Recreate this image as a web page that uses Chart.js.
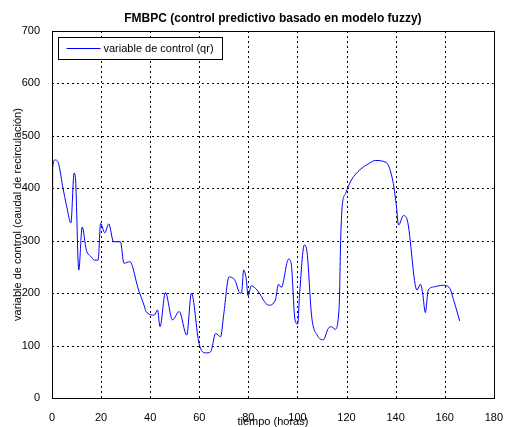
<!DOCTYPE html>
<html>
<head>
	<meta charset="UTF-8" />
	<script src="https://cdn.jsdelivr.net/npm/chart.js@4.4.0/dist/chart.umd.min.js"></script>
	<style>
		body { margin: 0; background: #fff; }
	</style>
</head>
<body>
	<canvas id="myChart" width="508" height="427"></canvas>
	<script>
// tiempo (horas) and control variable (qr)
const tiempo = [0, 0.1, 0.3, 1.2, 2.6, 4.3, 6, 7.7, 9, 9.6, 10.9, 12.3, 14, 15.8, 17.4, 18.8, 19.8, 21.5, 23.1, 25.1, 27.9, 29.3, 31.6, 32.5, 34.9, 37.7, 38.3, 41.7, 43, 44, 46.2, 49.1, 51.8, 54.9, 56.8, 59.9, 62.6, 64.6, 66.7, 68.7, 70, 72.1, 74.8, 76.1, 77.2, 78.1, 79.1, 79.9, 81.2, 83.5, 88.3, 91, 92.3, 93.4, 96.4, 97.4, 99, 100.1, 100.8, 102.8, 103.8, 105.8, 108, 110.5, 112.6, 113.9, 115.3, 117, 117.6, 118.2, 119.6, 122, 125.4, 129.4, 131.7, 136.2, 138.9, 140.2, 141.2, 143.2, 144.7, 148.7, 150.1, 151, 152.1, 153.3, 155.7, 159.1, 161.8, 163.8, 166.1];
const qr = [680, 220, 440, 454, 448, 405, 365, 334, 429, 416, 244, 326, 282, 270, 263, 263, 333, 315, 332, 298, 298, 257, 260, 255, 212, 174, 165, 158, 168, 136, 201, 149, 165, 120, 200, 104, 86, 88, 123, 117, 161, 231, 222, 203, 200, 244, 228, 195, 214, 206, 177, 187, 217, 211, 265, 258, 149, 141, 193, 292, 282, 155, 120, 111, 133, 136, 131, 175, 300, 365, 390, 416, 435, 448, 453, 449, 413, 371, 330, 348, 340, 206, 217, 200, 163, 206, 212, 215, 211, 184, 147];
const xTicks = [0, 20, 40, 60, 80, 100, 120, 140, 160, 180];
const yTicks = [0, 100, 200, 300, 400, 500, 600, 700];
const serieLabel = "variable de control (qr)";

const FONT = "'Liberation Sans', Arial, sans-serif";

// dotted MATLAB grid, placed through the scales
const gridPlugin = {
	id: "dotgrid",
	beforeDatasetsDraw(chart) {
		const { ctx, chartArea: a, scales } = chart;
		ctx.save();
		ctx.beginPath();
		ctx.rect(a.left, a.top, a.right - a.left, a.bottom - a.top);
		ctx.clip();
		ctx.strokeStyle = "#000";
		ctx.lineWidth = 1;
		ctx.setLineDash([2, 3]);
		ctx.beginPath();
		xTicks.forEach(v => {
			const px = Math.round(scales.x.getPixelForValue(v)) + 0.5;
			ctx.moveTo(px, a.top);
			ctx.lineTo(px, a.bottom);
		});
		yTicks.forEach(v => {
			const py = Math.round(scales.y.getPixelForValue(v)) + 0.5;
			ctx.moveTo(a.left, py);
			ctx.lineTo(a.right, py);
		});
		ctx.stroke();
		ctx.restore();
	}
};

// MATLAB-like box and legend inside the axes
const boxPlugin = {
	id: "box",
	afterDraw(chart) {
		const { ctx, chartArea: a } = chart;
		ctx.save();
		ctx.strokeStyle = "#000";
		ctx.lineWidth = 1;
		ctx.setLineDash([]);
		ctx.strokeRect(Math.round(a.left) + 0.5, Math.round(a.top) + 0.5, Math.round(a.right - a.left), Math.round(a.bottom - a.top));
		// legend
		const lx = Math.round(a.left) + 6.5, ly = Math.round(a.top) + 6.5;
		ctx.fillStyle = "#fff";
		ctx.fillRect(lx, ly, 164, 22);
		ctx.strokeRect(lx, ly, 164, 22);
		ctx.strokeStyle = "#0000ff";
		ctx.beginPath();
		ctx.moveTo(lx + 8, ly + 11);
		ctx.lineTo(lx + 42, ly + 11);
		ctx.stroke();
		ctx.fillStyle = "#000";
		ctx.font = "11px " + FONT;
		ctx.textBaseline = "middle";
		ctx.fillText(serieLabel, lx + 45, ly + 11.5);
		ctx.restore();
	}
};

const chart = new Chart(document.getElementById("myChart").getContext("2d"), {
	type: "line",
	data: {
		datasets: [{
			label: serieLabel,
			data: tiempo.map((t, i) => ({ x: t, y: qr[i] })),
			borderColor: "#0000ff",
			borderWidth: 1,
			pointRadius: 0,
			fill: false,
			cubicInterpolationMode: "monotone"
		}]
	},
	options: {
		responsive: false,
		animation: false,
		layout: { padding: { left: 0, right: 8, top: 0, bottom: 0 } },
		scales: {
			x: {
				type: "linear",
				min: 0, max: 180,
				afterBuildTicks: (s) => { s.ticks = xTicks.map(v => ({ value: v })); },
				afterFit: (s) => { s.height = 29; },
				grid: { display: false },
				border: { display: false },
				ticks: { color: "#000", padding: 5, maxRotation: 0, font: { family: FONT, size: 11 } },
				title: { display: true, text: "tiempo (horas)", color: "#000", padding: 0, font: { family: FONT, size: 11, lineHeight: 1 } }
			},
			y: {
				min: 0, max: 700,
				afterBuildTicks: (s) => { s.ticks = yTicks.map(v => ({ value: v })); },
				afterFit: (s) => { s.width = 52; },
				grid: { display: false },
				border: { display: false },
				ticks: { color: "#000", padding: 4, font: { family: FONT, size: 11 } },
				title: { display: true, text: "variable de control (caudal de recirculación)", color: "#000", padding: { top: 11, bottom: 0 }, font: { family: FONT, size: 11 } }
			}
		},
		plugins: {
			legend: { display: false },
			tooltip: { enabled: false },
			title: {
				display: true,
				fullSize: false,
				text: "FMBPC (control predictivo basado en modelo fuzzy)",
				color: "#000",
				font: { family: FONT, size: 12, weight: "bold" },
				padding: { top: 11, bottom: 5.6 }
			}
		}
	},
	plugins: [gridPlugin, boxPlugin]
});
	</script>
</body>
</html>
